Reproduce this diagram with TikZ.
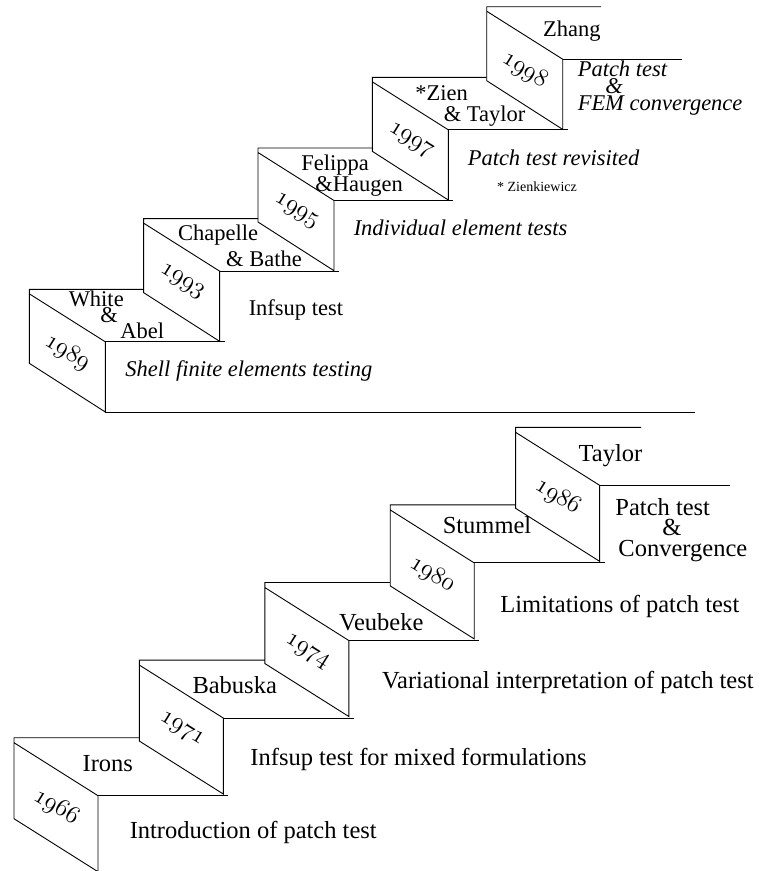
\documentclass[tikz,border=0pt]{standalone}
\usepackage{fontspec}
\setmainfont{Liberation Serif}
\usepackage{tikz}

\newcommand{\yearfont}[1]{\usefont{OML}{lmm}{m}{it}\fontsize{#1}{#1}\selectfont}

\begin{document}
\begin{tikzpicture}[x=1pt, y=-1pt, line width=0.9pt,
    % lower stairs (1966--1986)
    loname/.style={anchor=base, inner sep=0pt, font=\fontsize{24.5}{20}\selectfont},
    loyear/.style={inner sep=0pt, rotate=-32, font=\yearfont{25}},
    lotopic/.style={anchor=base west, inner sep=0pt, align=left, font=\fontsize{24.5}{20.8}\selectfont},
    % upper stairs (1989--1998)
    upname/.style={anchor=base west, inner sep=0pt, align=left, font=\fontsize{22.5}{16}\selectfont},
    upyear/.style={inner sep=0pt, rotate=-32, font=\yearfont{23}},
    uptopic/.style={anchor=base west, inner sep=0pt, align=left, font=\fontsize{22.5}{16.7}\selectfont\itshape}]

  \useasboundingbox (0,0) rectangle (763,871);

  % ===== Lower stairs =====
  \foreach \i/\yr in {0/1966,1/1971,2/1974,3/1980,4/1986} {
    \pgfmathsetmacro{\xa}{14+125.4*\i}
    \pgfmathsetmacro{\ya}{737.7-77.6*\i}
    % riser face and back edge of the tread
    \draw (\xa,\ya+5) -- ++(84,53) -- ++(0,76) -- ++(-84,-53) -- (\xa,\ya) -- ++(125.4,0);
    % front edge of the tread
    \draw (\xa+84,\ya+58) -- ++(130.4,0);
    \node[loyear] (y\yr) at (\xa+42,\ya+69.5) {\yr};
  }

  \node[loname] (irons) at (107.8,771.7) {Irons};
  \node[loname] (babuska) at (234.7,693.3) {Babuska};
  \node[loname] (veubeke) at (381.3,630.7) {Veubeke};
  \node[loname] (stummel) at (487,533.3) {Stummel};
  \node[loname] (taylor) at (610.5,461.7) {Taylor};

  % (multi-line nodes: base = last line)
  \node[lotopic] (t1966) at (129.3,838.3) {Introduction of patch test};
  \node[lotopic] (t1971) at (250,765) {Infsup test for mixed formulations};
  \node[lotopic] (t1974) at (381.7,688.3) {Variational interpretation of patch test};
  \node[lotopic] (t1980) at (500,612) {Limitations of patch test};
  \node[lotopic] (t1986) at (615,556.7) {Patch test\\\hspace*{47pt}\&\\\hspace*{3pt}Convergence};

  % ===== Upper stairs =====
  \foreach \i/\yr in {0/1989,1/1993,2/1995,3/1997,4/1998} {
    \pgfmathsetmacro{\xa}{29.3+114.35*\i}
    \pgfmathsetmacro{\ya}{289.3-70.65*\i}
    \draw (\xa,\ya+4.5) -- ++(76,48) -- ++(0,70.2) -- ++(-76,-48.7) -- (\xa,\ya) -- ++(114.35,0);
    \draw (\xa+76,\ya+52.5) -- ++(119.4,0);
    \node[upyear] (y\yr) at (\xa+38,\ya+63.3) {\yr};
  }
  % floor under 1989
  \draw (105.3,412) -- (695,412);

  \node[upname] (white) at (68.3,338.3) {White\\\hspace*{31.7pt}\&\\\hspace*{51.7pt}Abel};
  \node[upname] (chapelle) at (177.7,266) {Chapelle\\[3.7pt]\hspace*{48pt}\& Bathe};
  \node[upname] (felippa) at (301,191.7) {Felippa\\\hspace*{14pt}\&Haugen};
  \node[upname] (zien) at (415,121.7) {*Zien\\[5.7pt]\hspace*{28.3pt}\& Taylor};
  \node[upname] (zhang) at (542.7,36.7) {Zhang};

  \node[uptopic] (t1989) at (125,376.7) {Shell finite elements testing};
  \node[upname] (t1993) at (248.3,315) {Infsup test};
  \node[uptopic] (t1995) at (353.3,235) {Individual element tests};
  \node[uptopic] (t1997) at (467.3,165) {Patch test revisited};
  \node[anchor=base west, inner sep=0pt, font=\fontsize{14}{14}\selectfont] (zfoot) at (496.7,191.7) {* Zienkiewicz};
  \node[uptopic] (t1998) at (577.3,110) {Patch test\\\hspace*{27.7pt}\&\\FEM convergence};
\end{tikzpicture}
\end{document}
